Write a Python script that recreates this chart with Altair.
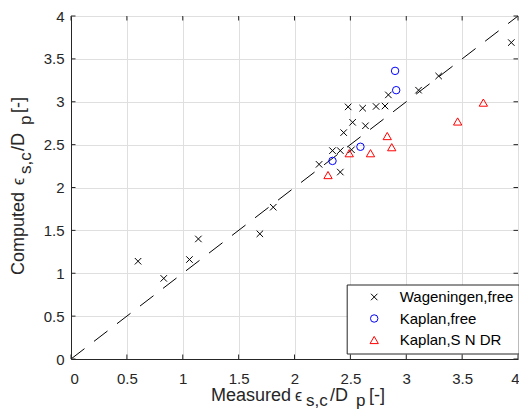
import altair as alt
import pandas as pd

# ---------------- data ----------------
series_names = ["Wageningen,free", "Kaplan,free", "Kaplan,S N DR"]

wag_x = [0.60, 0.83, 1.06, 1.14, 1.69, 1.81, 2.22, 2.34, 2.41, 2.41, 2.44,
         2.48, 2.51, 2.52, 2.61, 2.635, 2.73, 2.81, 2.84, 3.11, 3.29, 3.94]
wag_y = [1.14, 0.94, 1.16, 1.40, 1.46, 1.77, 2.27, 2.43, 2.43, 2.18, 2.64,
         2.94, 2.44, 2.76, 2.925, 2.72, 2.945, 2.95, 3.08, 3.135, 3.30, 3.69]

kf_x = [2.34, 2.59, 2.90, 2.91]
kf_y = [2.31, 2.475, 3.36, 3.135]

ks_x = [2.30, 2.49, 2.68, 2.83, 2.87, 3.46, 3.69]
ks_y = [2.145, 2.40, 2.40, 2.60, 2.47, 2.77, 2.99]

diag_x = [0, 4]
diag_y = [0, 4]

tick_values = [0, 0.5, 1, 1.5, 2, 2.5, 3, 3.5, 4]

x_title_parts = ["Measured", "\u03f5", "s,c", "/D", "p", "[-]"]
y_title_parts = ["Computed", "\u03f5", "s,c", "/D", "p", "[-]"]

# ---------------- tables ----------------
rows = []
for name, xs_, ys_ in zip(series_names, [wag_x, kf_x, ks_x], [wag_y, kf_y, ks_y]):
    rows += [{"mx": a, "cy": b, "series": name} for a, b in zip(xs_, ys_)]
pts = pd.DataFrame(rows)
diag = pd.DataFrame({"mx": diag_x, "cy": diag_y})
ticks = pd.DataFrame({"v": tick_values})

W, H = 447, 343
FONT = "Liberation Sans"
DARK = "#262626"

# title layout (style only)
x_off = [0, 84, 95, 119, 145, 158]
y_off = [0, 90, 101, 124, 150, 162]
sizes = [18, 16, 17, 18, 17, 18]
is_sub = [False, False, True, False, True, False]

xscale = alt.Scale(domain=[0, 4], nice=False, zero=False)
yscale = alt.Scale(domain=[0, 4], nice=False, zero=False)

axis_common = dict(
    values=tick_values, format="~g", title=None, grid=True,
    gridColor="#dfdfdf", gridWidth=1, ticks=False,
    domainColor=DARK, domainWidth=1,
    labelFont=FONT, labelFontSize=15, labelColor=DARK,
    labelOverlap=False,
)
x_axis = alt.Axis(labelPadding=12, labelFlush=True, labelFlushOffset=1, **axis_common)
y_axis = alt.Axis(labelPadding=7, labelFlush=False, **axis_common)

legend = alt.Legend(
    title=None, orient="none", legendX=275.7, legendY=268.5,
    padding=5, symbolOffset=15, labelOffset=18, rowPadding=5.5,
    labelFont=FONT, labelFontSize=15, labelColor="black",
    strokeColor=DARK, fillColor="white", symbolStrokeWidth=1,
    labelExpr="datum.label + '\u00a0\u00a0'",
)

x_shape = "M-1,-1L1,1M-1,1L1,-1"

X = lambda f: alt.X(f, scale=xscale, axis=x_axis)
Y = lambda f: alt.Y(f, scale=yscale, axis=y_axis)

diag_line = alt.Chart(diag).mark_line(
    color="black", strokeWidth=1, strokeDash=[17, 12]
).encode(x=X("mx:Q"), y=Y("cy:Q"))

points = alt.Chart(pts).mark_point(filled=False, strokeWidth=1, opacity=1).encode(
    x=X("mx:Q"),
    y=Y("cy:Q"),
    color=alt.Color("series:N", scale=alt.Scale(domain=series_names,
                    range=["black", "blue", "red"]), legend=legend),
    shape=alt.Shape("series:N", scale=alt.Scale(domain=series_names,
                    range=[x_shape, "circle", "triangle-up"]), legend=legend),
    size=alt.Size("series:N", scale=alt.Scale(domain=series_names,
                  range=[42, 69, 114]), legend=legend),
)

tick_bottom = alt.Chart(ticks).mark_rule(color=DARK, strokeWidth=1).encode(
    x=X("v:Q"), y=alt.value(H), y2=alt.value(H - 4.5))
tick_top = alt.Chart(ticks).mark_rule(color=DARK, strokeWidth=1).encode(
    x=X("v:Q"), y=alt.value(0), y2=alt.value(4.5))
tick_left = alt.Chart(ticks).mark_rule(color=DARK, strokeWidth=1).encode(
    y=Y("v:Q"), x=alt.value(0), x2=alt.value(4.5))
tick_right = alt.Chart(ticks).mark_rule(color=DARK, strokeWidth=1).encode(
    y=Y("v:Q"), x=alt.value(W), x2=alt.value(W - 4.5))

title_layers = []
for i, part in enumerate(x_title_parts):
    title_layers.append(
        alt.Chart(pd.DataFrame({"t": [part]})).mark_text(
            align="left", baseline="alphabetic", font=FONT, color=DARK,
            fontSize=sizes[i]
        ).encode(
            x=alt.value(140 + x_off[i]),
            y=alt.value(390 if is_sub[i] else 385),
            text="t:N",
        )
    )
for i, part in enumerate(y_title_parts):
    title_layers.append(
        alt.Chart(pd.DataFrame({"t": [part]})).mark_text(
            align="left", baseline="alphabetic", font=FONT, color=DARK,
            fontSize=sizes[i], angle=270
        ).encode(
            x=alt.value(-40 if is_sub[i] else -47),
            y=alt.value(259 - y_off[i]),
            text="t:N",
        )
    )

chart = alt.layer(
    diag_line, tick_bottom, tick_top, tick_left, tick_right, points, *title_layers
).properties(
    width=W, height=H,
    autosize=alt.AutoSizeParams(type="none"),
    padding={"left": 63, "top": 8, "right": 1, "bottom": 52},
).configure_view(
    stroke=DARK, strokeWidth=1
).configure(background="white")

chart.save("out.html", embed_options={"renderer": "svg", "actions": False})
